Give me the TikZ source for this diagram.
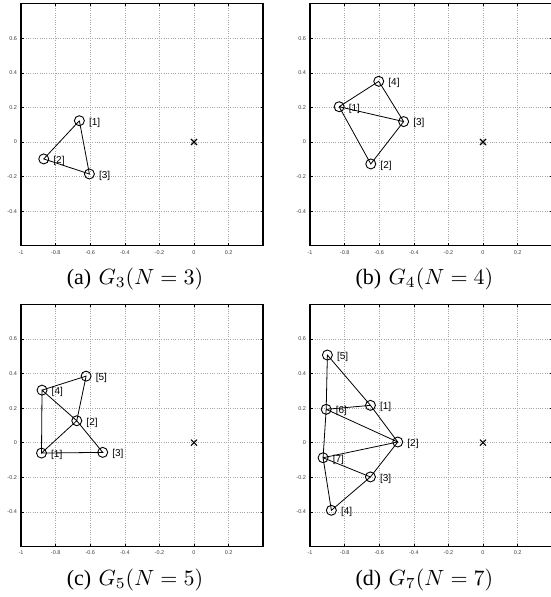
\documentclass[tikz,border=0pt]{standalone}
\usepackage{fontspec}
\newfontfamily\lblfont{Liberation Sans}
\newfontfamily\capfont{Liberation Serif}
\tikzset{
  gridl/.style={gray!70, line width=0.5pt, dash pattern=on 0.7pt off 1.6pt},
  axbox/.style={black, line width=1.4pt},
  tickl/.style={black, line width=0.5pt},
  ticklab/.style={font=\lblfont\fontsize{5.5}{6}\selectfont, text=black!75, inner sep=0pt},
  vtx/.style={circle, draw, line width=0.9pt, minimum size=10pt, inner sep=0pt},
  edge/.style={line width=0.8pt},
  lbl/.style={font=\lblfont\fontsize{10}{12}\selectfont, inner sep=0pt, anchor=west},
  capstyle/.style={font=\fontsize{10}{12}\selectfont, inner sep=0pt, scale=2.2, transform shape},
  crossm/.style={line width=1.1pt}
}
\newcommand\myaxes[1]{%
  \foreach \gx in {-0.8,-0.6,-0.4,-0.2,0,0.2}{
    \draw[gridl] (\gx,-0.6) -- (\gx,0.8);
    \draw[tickl] (\gx,-0.6) -- ++(0,2.5pt);
    \draw[tickl] (\gx,0.8) -- ++(0,-2.5pt);
  }
  \foreach \gy in {-0.4,-0.2,0,0.2,0.4,0.6}{
    \draw[gridl] (-1,\gy) -- (0.4,\gy);
    \draw[tickl] (-1,\gy) -- ++(2.5pt,0);
    \draw[tickl] (0.4,\gy) -- ++(-2.5pt,0);
  }
  \draw[axbox] (-1,-0.6) rectangle (0.4,0.8);
  \foreach \gx/\gt [count=\gi] in {-1/-1,-0.8/-0.8,-0.6/-0.6,-0.4/-0.4,-0.2/-0.2,0/0,0.2/0.2}{
    \node[ticklab, anchor=north] (#1tx\gi) at ([yshift=-4.5pt]\gx,-0.6) {\gt};
  }
  \foreach \gy/\gt [count=\gi] in {0.6/0.6,0.4/0.4,0.2/0.2,0/0,-0.2/-0.2,-0.4/-0.4}{
    \node[ticklab, anchor=east] (#1ty\gi) at ([xshift=-4pt]-1,\gy) {\gt};
  }
  \coordinate (#1o) at (0,0);
  \draw[crossm] ([shift={(-3pt,-3pt)}]#1o) -- ([shift={(3pt,3pt)}]#1o);
  \draw[crossm] ([shift={(-3pt,3pt)}]#1o) -- ([shift={(3pt,-3pt)}]#1o);
}
\newcommand\vlab[2]{\node[lbl] (#1l) at ([xshift=9.5pt,yshift=-1.7pt]#1.center) {[#2]};}
\begin{document}
\begin{tikzpicture}[x=1pt,y=1pt]
\useasboundingbox (0,0) rectangle (551,597);
\clip (0,0) rectangle (551,597);
% (a)
\begin{scope}[shift={(194,455)}, x=172.9pt, y=172.9pt]
  \myaxes{a}
  \node[vtx] (a1) at (-0.663,0.123) {};
  \node[vtx] (a2) at (-0.869,-0.098) {};
  \node[vtx] (a3) at (-0.605,-0.185) {};
  \draw[edge] (a1.center) -- (a2.center) -- (a3.center) -- (a1.center);
  \vlab{a1}{1}\vlab{a2}{2}\vlab{a3}{3}
\end{scope}
% (b)
\begin{scope}[shift={(483,455)}, x=172.9pt, y=172.9pt]
  \myaxes{b}
  \node[vtx] (b1) at (-0.832,0.204) {};
  \node[vtx] (b2) at (-0.649,-0.127) {};
  \node[vtx] (b3) at (-0.459,0.118) {};
  \node[vtx] (b4) at (-0.603,0.351) {};
  \draw[edge] (b1.center) -- (b4.center) -- (b3.center) -- (b1.center);
  \draw[edge] (b1.center) -- (b2.center) -- (b3.center);
  \vlab{b1}{1}\vlab{b2}{2}\vlab{b3}{3}\vlab{b4}{4}
\end{scope}
% (c)
\begin{scope}[shift={(194,154.3)}, x=172.9pt, y=172.9pt]
  \myaxes{c}
  \node[vtx] (c1) at (-0.882,-0.060) {};
  \node[vtx] (c2) at (-0.678,0.127) {};
  \node[vtx] (c3) at (-0.528,-0.056) {};
  \node[vtx] (c4) at (-0.879,0.304) {};
  \node[vtx] (c5) at (-0.624,0.385) {};
  \draw[edge] (c4.center) -- (c5.center) -- (c2.center) -- (c4.center) -- (c1.center) -- (c2.center) -- (c3.center) -- (c1.center);
  \vlab{c1}{1}\vlab{c2}{2}\vlab{c3}{3}\vlab{c4}{4}\vlab{c5}{5}
\end{scope}
% (d)
\begin{scope}[shift={(483,154.3)}, x=172.9pt, y=172.9pt]
  \myaxes{d}
  \node[vtx] (d1) at (-0.651,0.216) {};
  \node[vtx] (d2) at (-0.493,0.004) {};
  \node[vtx] (d3) at (-0.651,-0.198) {};
  \node[vtx] (d4) at (-0.877,-0.391) {};
  \node[vtx] (d5) at (-0.900,0.507) {};
  \node[vtx] (d6) at (-0.907,0.193) {};
  \node[vtx] (d7) at (-0.925,-0.087) {};
  \draw[edge] (d6.center) -- (d5.center) -- (d1.center) -- (d2.center) -- (d3.center) -- (d4.center) -- (d7.center) -- (d6.center);
  \draw[edge] (d6.center) -- (d1.center);
  \draw[edge] (d6.center) -- (d2.center);
  \draw[edge] (d7.center) -- (d2.center);
  \draw[edge] (d7.center) -- (d3.center);
  \vlab{d1}{1}\vlab{d2}{2}\vlab{d3}{3}\vlab{d4}{4}\vlab{d5}{5}\vlab{d6}{6}\vlab{d7}{7}
\end{scope}
% captions
\node[capstyle] (capa) at (135,318) {{\capfont (a)}\ $G_3(N=3)$};
\node[capstyle] (capb) at (424.5,318) {{\capfont (b)}\ $G_4(N=4)$};
\node[capstyle] (capc) at (135,17.5) {{\capfont (c)}\ $G_5(N=5)$};
\node[capstyle] (capd) at (424.5,17.5) {{\capfont (d)}\ $G_7(N=7)$};
\end{tikzpicture}
\end{document}
